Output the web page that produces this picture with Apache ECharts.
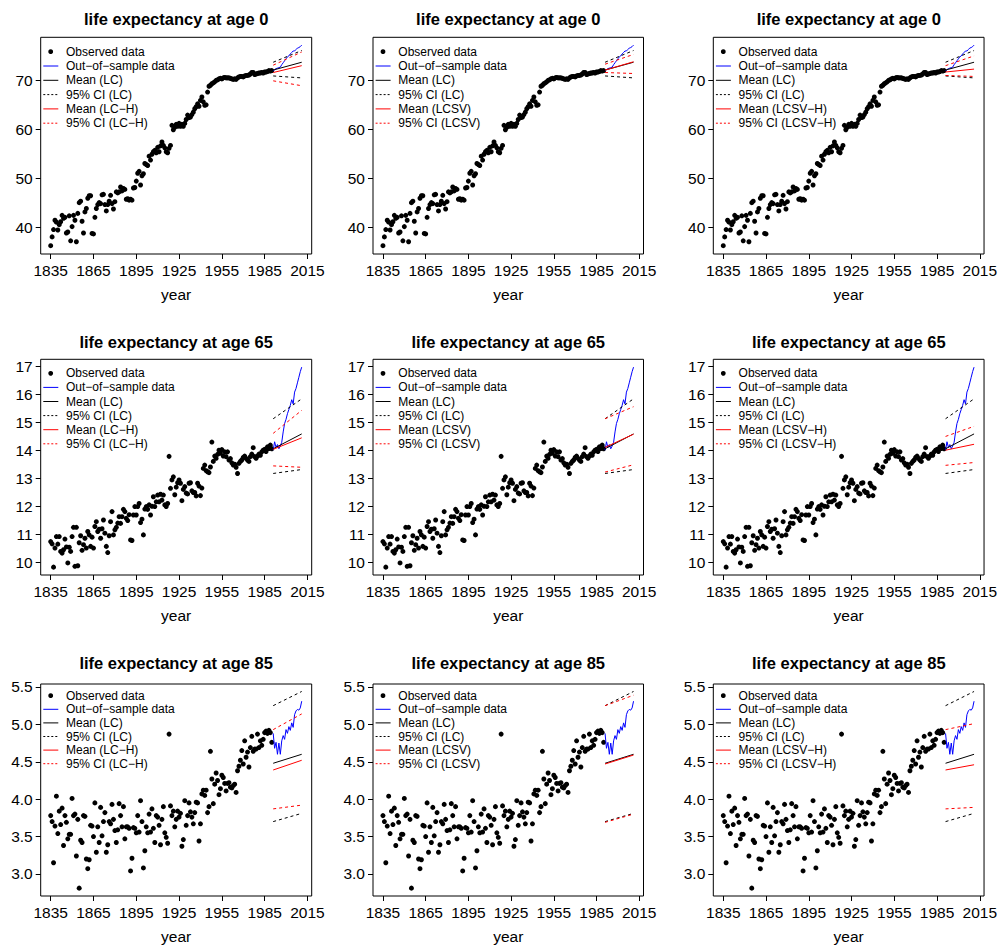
<!DOCTYPE html>
<html>
<head>
<meta charset="utf-8">
<script src="https://cdn.jsdelivr.net/npm/echarts/dist/echarts.min.js"></script>
<style>
  html, body { margin: 0; padding: 0; background: #fff; }
  #main { width: 1000px; height: 946px; }
</style>
</head>
<body>
<div id="main"></div>
<script>
const FONT = '"Liberation Sans", Arial, Helvetica, sans-serif';

// observed data start in 1835, one value a year up to 1990
const firstYear = 1835;
// out-of-sample data, one value a year 1991-2011
const oosFirstYear = 1991;
// forecast lines are drawn between these two years
const forecastYears = [1991, 2011];

const xTicks = [1835, 1865, 1895, 1925, 1955, 1985, 2015];
const yTicksAge0 = [40, 50, 60, 70];
const yTicksAge65 = [10, 11, 12, 13, 14, 15, 16, 17];
const yTicksAge85 = [3.0, 3.5, 4.0, 4.5, 5.0, 5.5];

const modelNames = ['LC−H', 'LCSV', 'LCSV−H'];

// ---- age 0
const obsAge0 = [
  36.2, 38.0, 39.5, 41.4, 41.0, 39.4, 40.5, 41.1, 42.4, 41.8,
  42.0, 38.8, 39.0, 42.3, 37.2, 40.1, 42.4, 41.4, 37.0, 42.8,
  45.0, 45.3, 41.2, 38.8, 43.1, 43.8, 45.9, 46.4, 46.4, 38.7,
  38.6, 42.0, 43.8, 44.6, 45.0, 44.8, 46.6, 46.7, 44.6, 43.3,
  44.6, 45.3, 46.5, 44.8, 43.7, 45.2, 47.2, 47.0, 47.2, 48.2,
  47.4, 47.9, 47.7, 45.7, 45.8, 45.5, 45.7, 45.5, 48.0, 48.1,
  49.4, 51.0, 51.4, 48.6, 50.5, 50.9, 53.0, 52.8, 52.6, 54.5,
  53.7, 54.9, 55.4, 55.7, 55.2, 56.3, 55.4, 56.6, 57.4, 56.7,
  56.2, 55.4, 55.2, 56.1, 56.7, 60.8, 59.9, 60.4, 61.0, 60.6,
  61.2, 60.6, 61.0, 60.6, 61.2, 62.0, 62.9, 62.4, 62.5, 63.0,
  63.5, 64.2, 64.6, 65.2, 64.7, 65.9, 66.6, 65.6, 64.9, 65.0,
  67.6, 68.8, 69.0, 69.3, 69.5, 69.7, 70.0, 70.1, 70.3, 70.4,
  70.3, 70.5, 70.6, 70.5, 70.5, 70.5, 70.4, 70.3, 70.2, 70.3,
  70.2, 70.5, 70.7, 70.8, 70.8, 70.7, 70.9, 71.0, 71.0, 71.1,
  71.3, 71.6, 71.6, 71.2, 71.3, 71.4, 71.5, 71.5, 71.6, 71.5,
  71.7, 71.7, 71.8, 72.0, 71.9, 72.0
];
const oosAge0 = [71.9, 72.2, 72.4, 72.5, 72.6, 72.7, 73.2, 73.6, 74.0, 74.4,
  74.8, 75.0, 75.4, 75.7, 76.0, 76.0, 76.3, 76.6, 76.7, 76.9, 77.2];
const lcMeanAge0 = [72.1, 73.7];
const lcUpperAge0 = [73.7, 76.1];
const lcLowerAge0 = [70.9, 70.5];
const redMeanAge0 = [[71.6, 73.0], [72.1, 73.8], [71.7, 72.3]];
const redUpperAge0 = [[73.1, 75.8], [73.3, 75.3], [73.0, 75.0]];
const redLowerAge0 = [[69.9, 68.9], [71.6, 71.4], [71.0, 70.8]];

// ---- age 65
const obsAge65 = [
  10.74, 10.66, 9.83, 10.51, 10.92, 10.65, 10.92, 10.39, 10.33, 10.45,
  10.83, 10.55, 9.98, 10.54, 10.39, 10.92, 11.25, 9.86, 11.25, 9.88,
  10.70, 10.95, 10.43, 10.63, 10.86, 10.51, 11.10, 10.98, 10.57, 10.90,
  10.51, 11.28, 11.45, 11.10, 11.18, 10.86, 11.20, 11.51, 11.04, 10.57,
  10.35, 10.95, 11.45, 11.81, 10.98, 11.16, 11.25, 11.40, 11.63, 11.39,
  11.63, 11.89, 11.81, 11.57, 11.49, 11.70, 10.80, 10.78, 11.69, 11.99,
  11.69, 11.99, 12.10, 11.42, 11.54, 10.98, 11.90, 11.99, 11.89, 12.05,
  11.69, 12.00, 12.34, 11.99, 12.16, 12.40, 12.16, 12.43, 12.22, 12.40,
  12.05, 11.99, 12.10, 13.78, 12.64, 12.94, 13.05, 12.41, 12.68, 12.84,
  12.94, 12.82, 12.20, 12.60, 12.70, 12.47, 12.44, 12.82, 12.84, 12.55,
  12.49, 12.49, 12.37, 12.82, 12.72, 12.38, 12.65, 13.35, 13.47, 13.27,
  13.23, 13.20, 13.40, 14.29, 13.60, 13.79, 13.71, 13.85, 14.00, 13.89,
  14.02, 13.79, 13.94, 13.77, 13.94, 13.65, 13.70, 13.55, 13.47, 13.50,
  13.39, 13.17, 13.53, 13.60, 13.65, 13.74, 13.79, 13.71, 13.65, 13.60,
  13.77, 13.86, 14.09, 13.77, 13.71, 13.79, 13.86, 13.82, 13.94, 14.00,
  14.03, 13.95, 14.12, 14.06, 14.18, 14.05
];
const oosAge65 = [14.0, 14.3, 14.1, 14.2, 14.05, 14.15, 14.28, 14.65, 14.95, 15.1,
  15.3, 15.45, 15.6, 15.8, 15.65, 16.07, 16.2, 16.4, 16.6, 16.8, 16.96];
const lcMeanAge65 = [14.05, 14.58];
const lcUpperAge65 = [15.12, 15.83];
const lcLowerAge65 = [13.17, 13.31];
const redMeanAge65 = [[14.03, 14.44], [14.10, 14.57], [14.00, 14.21]];
const redUpperAge65 = [[14.60, 15.42], [15.12, 15.55], [14.49, 14.85]];
const redLowerAge65 = [[13.44, 13.39], [13.22, 13.48], [13.46, 13.56]];

// ---- age 85
const obsAge85 = [
  3.78, 3.70, 3.15, 3.64, 4.04, 3.54, 3.84, 3.66, 3.88, 3.38,
  3.78, 3.69, 3.47, 3.53, 3.53, 4.01, 3.78, 3.80, 3.24, 3.73,
  2.81, 3.45, 3.42, 3.78, 3.77, 3.20, 3.07, 3.19, 3.65, 3.64,
  3.50, 3.95, 3.29, 3.63, 3.42, 3.89, 3.51, 3.70, 3.82, 3.29,
  3.39, 3.70, 3.67, 3.93, 3.73, 3.58, 3.42, 3.59, 3.94, 3.78,
  3.63, 3.90, 3.47, 3.63, 3.63, 3.61, 3.04, 3.21, 3.62, 3.61,
  3.55, 3.78, 3.56, 3.98, 3.70, 3.08, 3.31, 3.63, 3.55, 3.80,
  3.56, 3.87, 3.61, 3.42, 3.78, 3.76, 3.65, 3.39, 3.73, 3.90,
  3.55, 3.49, 3.41, 4.87, 3.91, 3.78, 3.84, 3.63, 3.73, 3.84,
  3.76, 3.81, 3.37, 3.46, 3.98, 3.65, 3.78, 3.95, 3.83, 3.76,
  3.67, 3.82, 3.96, 3.95, 3.44, 3.67, 4.07, 4.12, 4.05, 4.12,
  3.82, 3.90, 4.64, 4.27, 3.94, 4.20, 4.35, 4.25, 4.06, 4.14,
  4.32, 4.29, 4.21, 4.11, 4.21, 4.22, 4.16, 4.15, 4.18, 4.20,
  4.09, 4.38, 4.44, 4.52, 4.65, 4.47, 4.78, 4.56, 4.63, 4.43,
  4.69, 4.84, 4.64, 4.67, 4.67, 4.87, 4.69, 4.78, 4.72, 4.80,
  4.89, 4.91, 4.88, 4.92, 4.89, 4.76
];
const oosAge85 = [4.88, 4.68, 4.76, 4.60, 4.75, 4.60, 4.78, 4.85, 4.80, 4.93,
  4.88, 4.97, 4.92, 5.02, 4.96, 5.13, 5.18, 5.20, 5.19, 5.22, 5.31];
const lcMeanAge85 = [4.48, 4.60];
const lcUpperAge85 = [5.25, 5.44];
const lcLowerAge85 = [3.70, 3.81];
const redMeanAge85 = [[4.39, 4.52], [4.47, 4.59], [4.39, 4.46]];
const redUpperAge85 = [[4.93, 5.14], [5.25, 5.39], [4.93, 5.01]];
const redLowerAge85 = [[3.87, 3.92], [3.69, 3.80], [3.87, 3.89]];

// panel geometry (px)
const colLeft = [40.7, 373, 713.3];
const colWidth = [271, 270.5, 271];
const rowTop = [37.3, 359.3, 684];
const rowHeight = [216.7, 215.7, 212];
const titleY = [19, 341.5, 663];
const legendFirst = [14.4, 14, 11.7];
const legendStep = [14.3, 14.1, 13.6];

const rows = [
  {title: 'life expectancy at age 0', obs: obsAge0, oos: oosAge0, yMin: 34.5, yMax: 78.8, yTicks: yTicksAge0, digits: 0,
   lcMean: lcMeanAge0, lcUpper: lcUpperAge0, lcLower: lcLowerAge0, redMean: redMeanAge0, redUpper: redUpperAge0, redLower: redLowerAge0},
  {title: 'life expectancy at age 65', obs: obsAge65, oos: oosAge65, yMin: 9.55, yMax: 17.24, yTicks: yTicksAge65, digits: 0,
   lcMean: lcMeanAge65, lcUpper: lcUpperAge65, lcLower: lcLowerAge65, redMean: redMeanAge65, redUpper: redUpperAge65, redLower: redLowerAge65},
  {title: 'life expectancy at age 85', obs: obsAge85, oos: oosAge85, yMin: 2.705, yMax: 5.54, yTicks: yTicksAge85, digits: 1,
   lcMean: lcMeanAge85, lcUpper: lcUpperAge85, lcLower: lcLowerAge85, redMean: redMeanAge85, redUpper: redUpperAge85, redLower: redLowerAge85}
];

const withYears = (vals, start) => vals.map((v, i) => [start + i, v]);
const atForecast = (vals) => vals.map((v, i) => [forecastYears[i], v]);

const grids = [], xAxes = [], yAxes = [], series = [], graphics = [];
const tickFont = {color: '#000', fontSize: 15.5, fontFamily: FONT};

function lineSeries(k, data, color, dashed) {
  return {
    type: 'line', xAxisIndex: k, yAxisIndex: k, data: data,
    symbol: 'none', silent: true,
    lineStyle: {color: color, width: 1, type: dashed ? [3, 3] : 'solid'}
  };
}

rows.forEach((row, r) => {
  for (let c = 0; c < 3; c++) {
    const k = r * 3 + c;
    const left = colLeft[c], top = rowTop[r];
    grids.push({left: left, top: top, width: colWidth[c], height: rowHeight[r],
      show: true, borderColor: '#000', borderWidth: 1, backgroundColor: 'transparent'});
    xAxes.push({
      type: 'value', gridIndex: k, min: 1828, max: 2018,
      axisLine: {show: false}, splitLine: {show: false},
      axisTick: {show: true, length: 5, customValues: xTicks, lineStyle: {color: '#000'}},
      axisLabel: Object.assign({margin: 8, customValues: xTicks, formatter: (v) => String(v)}, tickFont),
      name: 'year', nameLocation: 'middle', nameGap: 32,
      nameTextStyle: {color: '#000', fontSize: 15.5, fontFamily: FONT}
    });
    yAxes.push({
      type: 'value', gridIndex: k, min: row.yMin, max: row.yMax,
      axisLine: {show: false}, splitLine: {show: false},
      axisTick: {show: true, length: 5, customValues: row.yTicks, lineStyle: {color: '#000'}},
      axisLabel: Object.assign({margin: 8, customValues: row.yTicks,
        formatter: (v) => v.toFixed(row.digits)}, tickFont)
    });

    series.push({
      type: 'scatter', xAxisIndex: k, yAxisIndex: k, silent: true,
      data: withYears(row.obs, firstYear), symbolSize: 5,
      itemStyle: {color: '#000', opacity: 1}
    });
    series.push(lineSeries(k, withYears(row.oos, oosFirstYear), '#0000ff', false));
    series.push(lineSeries(k, atForecast(row.lcMean), '#000', false));
    series.push(lineSeries(k, atForecast(row.lcUpper), '#000', true));
    series.push(lineSeries(k, atForecast(row.lcLower), '#000', true));
    series.push(lineSeries(k, atForecast(row.redMean[c]), '#ff0000', false));
    series.push(lineSeries(k, atForecast(row.redUpper[c]), '#ff0000', true));
    series.push(lineSeries(k, atForecast(row.redLower[c]), '#ff0000', true));

    // panel title
    graphics.push({
      type: 'text', x: left + colWidth[c] / 2, y: titleY[r],
      style: {text: row.title, fill: '#000', font: 'bold 16.5px ' + FONT,
        align: 'center', verticalAlign: 'middle', textAlign: 'center', textVerticalAlign: 'middle'}
    });

    // legend (top-left inside the box)
    const m = modelNames[c];
    const items = [
      {label: 'Observed data', kind: 'dot', color: '#000'},
      {label: 'Out−of−sample data', kind: 'line', color: '#0000ff'},
      {label: 'Mean (LC)', kind: 'line', color: '#000'},
      {label: '95% CI (LC)', kind: 'dash', color: '#000'},
      {label: 'Mean (' + m + ')', kind: 'line', color: '#ff0000'},
      {label: '95% CI (' + m + ')', kind: 'dash', color: '#ff0000'}
    ];
    items.forEach((it, i) => {
      const y = top + legendFirst[r] + i * legendStep[r];
      if (it.kind === 'dot') {
        graphics.push({type: 'circle', shape: {cx: left + 10, cy: y, r: 2.4}, style: {fill: it.color}});
      } else {
        graphics.push({type: 'line', shape: {x1: left + 2.6, y1: y, x2: left + 17.6, y2: y},
          style: {stroke: it.color, lineWidth: 1, lineDash: it.kind === 'dash' ? [2, 2] : null}});
      }
      graphics.push({
        type: 'text', x: left + 25.3, y: y,
        style: {text: it.label, fill: '#000', font: '12px ' + FONT,
          align: 'left', verticalAlign: 'middle', textAlign: 'left', textVerticalAlign: 'middle'}
      });
    });
  }
});

const chart = echarts.init(document.getElementById('main'), null, {renderer: 'svg'});
chart.setOption({
  animation: false,
  backgroundColor: '#fff',
  grid: grids,
  xAxis: xAxes,
  yAxis: yAxes,
  series: series,
  graphic: graphics
});
</script>
</body>
</html>
